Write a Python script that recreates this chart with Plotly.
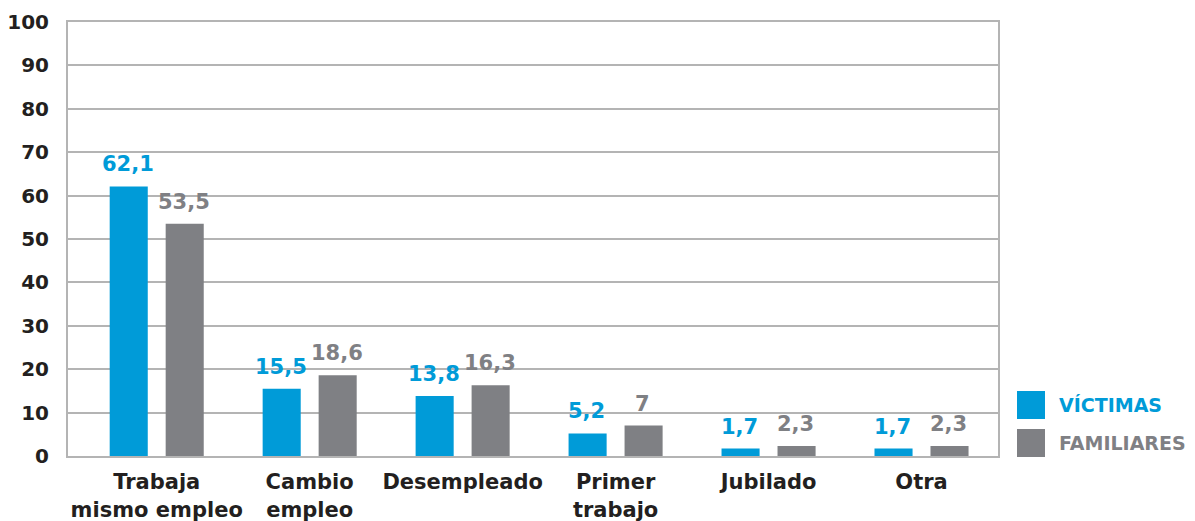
import plotly.graph_objects as go

categories = ["Trabaja<br>mismo empleo", "Cambio<br>empleo", "Desempleado",
              "Primer<br>trabajo", "Jubilado", "Otra"]
victimas = [62.1, 15.5, 13.8, 5.2, 1.7, 1.7]
familiares = [53.5, 18.6, 16.3, 7, 2.3, 2.3]
series_names = ["VÍCTIMAS", "FAMILIARES"]
y_ticks = [0, 10, 20, 30, 40, 50, 60, 70, 80, 90, 100]

BLUE = "#009bd8"
GREY = "#7f8084"
FONT = "DejaVu Sans"


def fmt(v):
    return f"{v:g}".replace(".", ",")


fig = go.Figure()
series = [(series_names[0], victimas, BLUE, -29), (series_names[1], familiares, GREY, 27)]
for name, vals, col, shift in series:
    fig.add_trace(go.Bar(
        x=categories, y=vals, name=name, marker=dict(color=col, line=dict(width=0)),
        showlegend=False,
    ))
    for c, v in zip(categories, vals):
        fig.add_annotation(x=c, y=v, xref="x", yref="y", text=fmt(v), showarrow=False,
                           xshift=shift, yshift=8, yanchor="bottom", xanchor="center",
                           font=dict(family=FONT, size=21, color=col, weight="bold"))

# page has an 8px body margin, so the figure is sized/offset to compensate
fig.update_layout(
    width=1187, height=513,
    margin=dict(l=60, r=197, t=14, b=65),
    paper_bgcolor="white", plot_bgcolor="white",
    barmode="group", bargap=0.268, bargroupgap=0.32,
    font=dict(family=FONT, color="#231f20"),
    xaxis=dict(
        type="category", range=[-0.58, 5.5], automargin=False,
        showline=True, linecolor="#b4b4b4", linewidth=2, mirror=True,
        showgrid=False, ticks="", ticklabelstandoff=6,
        tickfont=dict(family=FONT, size=21, color="#231f20", weight="bold"),
    ),
    yaxis=dict(
        range=[0, 100], tickvals=y_ticks, ticktext=[str(t) for t in y_ticks],
        automargin=False,
        showline=True, linecolor="#b4b4b4", linewidth=2, mirror=True,
        showgrid=True, gridcolor="#b4b4b4", gridwidth=1.5, zeroline=False,
        ticks="", ticklabelstandoff=13,
        tickfont=dict(family=FONT, size=20, color="#231f20", weight="bold"),
    ),
)

# custom legend (large squares), positions in window pixels converted to paper
legend_items = [(series_names[0], BLUE, 391), (series_names[1], GREY, 429)]
for name, col, top in legend_items:
    y0 = 1 - (top - 22) / 434
    y1 = 1 - (top + 28 - 22) / 434
    x0 = (1017 - 68) / 930
    x1 = (1045 - 68) / 930
    fig.add_shape(type="rect", xref="paper", yref="paper", x0=x0, x1=x1, y0=y1, y1=y0,
                  fillcolor=col, line=dict(width=0))
    fig.add_annotation(xref="paper", yref="paper", x=(1057 - 68) / 930, y=(y0 + y1) / 2,
                       text=name, showarrow=False, xanchor="left", yanchor="middle",
                       font=dict(family=FONT, size=19, color=col, weight="bold"))

fig.write_html("out.html")
